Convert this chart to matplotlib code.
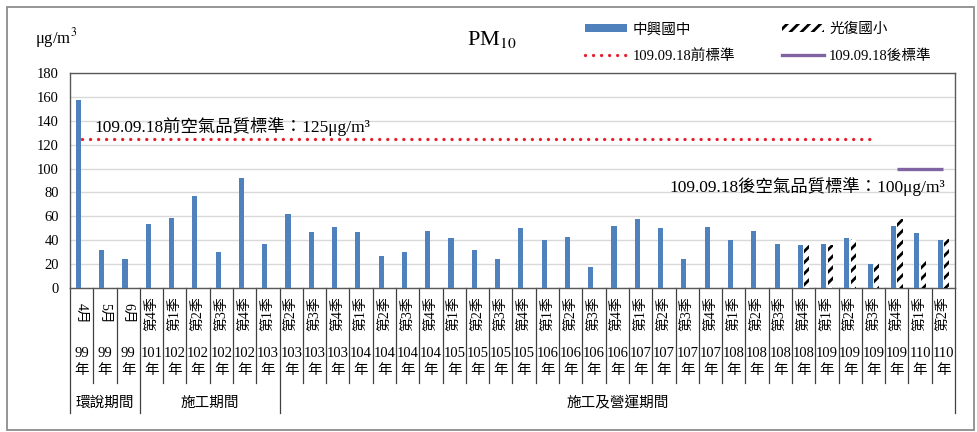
import matplotlib
matplotlib.use("Agg")
import matplotlib.pyplot as plt
import matplotlib.transforms as mtransforms
from matplotlib.patches import Patch, Rectangle
from matplotlib.lines import Line2D
import numpy as np

plt.rcParams['font.family'] = ['Liberation Serif', 'Noto Sans CJK TC', 'DejaVu Sans']
plt.rcParams['mathtext.fontset'] = 'stix'
plt.rcParams['hatch.linewidth'] = 2.0

period_labels = ['4月', '5月', '6月', '第4季',
                 '第1季', '第2季', '第3季', '第4季',
                 '第1季', '第2季', '第3季', '第4季',
                 '第1季', '第2季', '第3季', '第4季',
                 '第1季', '第2季', '第3季', '第4季',
                 '第1季', '第2季', '第3季', '第4季',
                 '第1季', '第2季', '第3季', '第4季',
                 '第1季', '第2季', '第3季', '第4季',
                 '第1季', '第2季', '第3季', '第4季',
                 '第1季', '第2季']
year_labels = ['99', '99', '99', '101',
               '102', '102', '102', '102',
               '103', '103', '103', '103',
               '104', '104', '104', '104',
               '105', '105', '105', '105',
               '106', '106', '106', '106',
               '107', '107', '107', '107',
               '108', '108', '108', '108',
               '109', '109', '109', '109',
               '110', '110']
zhongxing = [157, 32, 24, 54, 59, 77, 30, 92, 37, 62, 47, 51, 47, 27, 30, 48, 42, 32, 24,
             50, 40, 43, 18, 52, 58, 50, 24, 51, 40, 48, 37, 36, 37, 42, 20, 52, 46, 40]
guangfu = [np.nan] * 31 + [36, 36, 41, 23, 58, 24, 41]
std_before = 125
std_after = 100
before_range = (0, 34)   # categories covered by the old standard
after_range = (35, 37)   # categories covered by the new standard
groups = ['環說期間', '施工期間', '施工及營運期間']
group_bounds = [0, 3, 9, 38]

n = len(period_labels)
x = np.arange(n)

fig = plt.figure(figsize=(9.78, 4.32), dpi=100)
ax = fig.add_axes([70 / 978, 1 - 288 / 432, 885 / 978, 215 / 432])

ax.bar(x - 0.14, zhongxing, width=0.22, color='#4F81BD', zorder=3)
ax.bar(x + 0.14, guangfu, width=0.22, facecolor='white', edgecolor='black',
       hatch='///', linewidth=0, zorder=3)

ax.plot(before_range, [std_before, std_before], color='#E5202E', linewidth=2.4,
        linestyle=(0, (0.01, 2.4)), dash_capstyle='round', zorder=4)
ax.plot(after_range, [std_after, std_after], color='#8064A2', linewidth=2.4,
        solid_capstyle='butt', zorder=4)

ax.text(0.57, 131, '109.09.18前空氣品質標準：125μg/m³', fontsize=12.5,
        ha='left', va='baseline', zorder=5)
ax.text(37.07, 80.5, '109.09.18後空氣品質標準：100μg/m³', fontsize=12.5,
        ha='right', va='baseline', zorder=5)

ax.set_xlim(-0.5, n - 0.5)
ax.set_ylim(0, 180)
ax.set_yticks(np.arange(0, 181, 20))
ax.tick_params(axis='y', length=0, labelsize=10.5, pad=8)
ax.set_xticks([])
ax.yaxis.grid(True, color='#D9D9D9', linewidth=1.0, zorder=0)
ax.set_axisbelow(True)
for side in ['top', 'left', 'right', 'bottom']:
    ax.spines[side].set_color('#595959')
    ax.spines[side].set_linewidth(1.0)

# category table under the axis
trans = mtransforms.blended_transform_factory(ax.transData, ax.transAxes)
for k in range(n + 1):
    low = -0.581 if k in group_bounds else -0.442
    ax.plot([k - 0.5, k - 0.5], [0, low], color='#404040', linewidth=0.9,
            transform=trans, clip_on=False)
for i in range(n):
    rot = -90 if period_labels[i].endswith('月') else 90
    ax.text(i, -0.12, period_labels[i], transform=trans, rotation=rot,
            ha='center', va='center', fontsize=10)
    ax.text(i, -0.345, year_labels[i] + '\n年', transform=trans,
            ha='center', va='center', fontsize=10.5, linespacing=1.4)
for g in range(len(groups)):
    mid = (group_bounds[g] + group_bounds[g + 1] - 1) / 2
    ax.text(mid, -0.535, groups[g], transform=trans, ha='center', va='center',
            fontsize=10.5)

# titles
fig.text(492 / 978, 1 - 40 / 432, 'PM$_{10}$', fontsize=16, ha='center', va='center')
fig.text(35 / 978, 1 - 38 / 432, 'μg/m$^3$', fontsize=12, ha='left', va='center')

handles = [Patch(facecolor='#4F81BD', edgecolor='none'),
           Line2D([], [], color='#E5202E', linewidth=2.4, linestyle=(0, (0.01, 2.4)),
                  dash_capstyle='round'),
           Patch(facecolor='white', edgecolor='black', hatch='///', linewidth=0),
           Line2D([], [], color='#8064A2', linewidth=2.4)]
labels = ['中興國中', '109.09.18前標準', '光復國小', '109.09.18後標準']
fig.legend(handles, labels, ncol=2, loc='upper left',
           bbox_to_anchor=(572 / 978, 1 - 9 / 432), frameon=False, fontsize=10.5,
           handlelength=2.9, handleheight=0.5, handletextpad=0.35,
           columnspacing=3.2, labelspacing=0.9)

fig.patches.append(Rectangle((7 / 978, 1 - 430 / 432), 967 / 978, 423 / 432,
                             transform=fig.transFigure, fill=False,
                             edgecolor='#8C8C8C', linewidth=1.3))

fig.savefig('out.png', dpi=100)
